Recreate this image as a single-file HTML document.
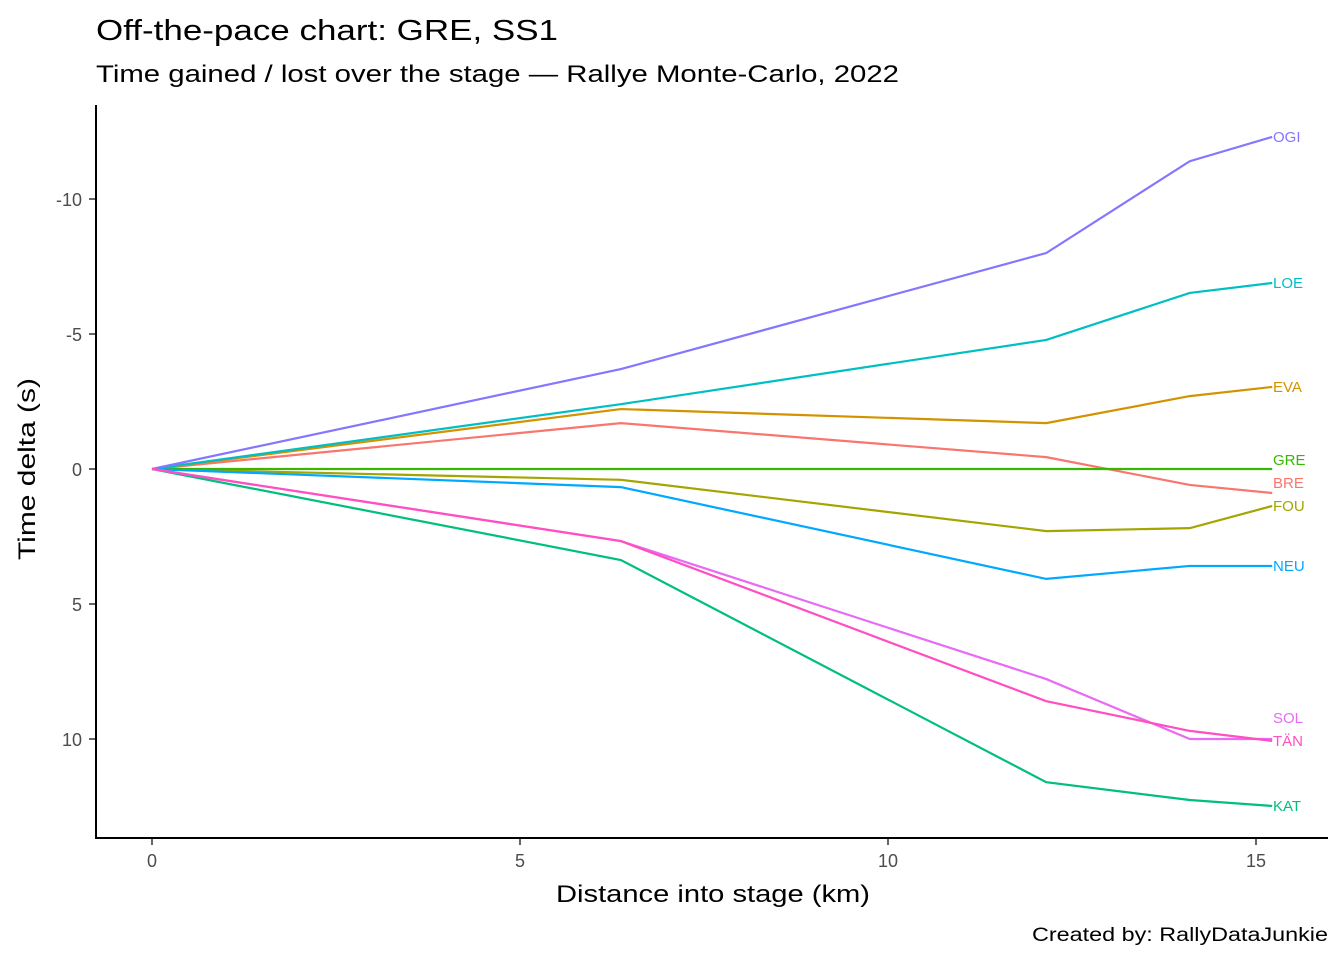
<!DOCTYPE html>
<html><head><meta charset="utf-8"><style>
body{margin:0;background:#fff;}
svg text{font-family:"Liberation Sans",Arial,sans-serif;}
</style></head><body>
<svg id="chart" width="1344" height="960" xmlns="http://www.w3.org/2000/svg">
<rect width="1344" height="960" fill="#fff"/>
<text x="96" y="40" font-size="29" textLength="462" lengthAdjust="spacingAndGlyphs" fill="#000">Off-the-pace chart: GRE, SS1</text>
<text x="96" y="82" font-size="24" textLength="803" lengthAdjust="spacingAndGlyphs" fill="#000">Time gained / lost over the stage — Rallye Monte-Carlo, 2022</text>
<g id="plot"></g>
<line x1="96" y1="105" x2="96" y2="839" stroke="#000" stroke-width="2"/>
<line x1="95" y1="838" x2="1328" y2="838" stroke="#000" stroke-width="2"/>
<text x="713" y="902" font-size="24" textLength="314" lengthAdjust="spacingAndGlyphs" text-anchor="middle">Distance into stage (km)</text>
<text transform="translate(35,469) rotate(-90)" font-size="24" textLength="182" lengthAdjust="spacingAndGlyphs" text-anchor="middle">Time delta (s)</text>
<text x="1328" y="941" font-size="19" textLength="296" lengthAdjust="spacingAndGlyphs" text-anchor="end">Created by: RallyDataJunkie</text>
</svg>
<script>
const distances = [0, 6.37, 12.15, 14.1, 15.22];
const drivers = ["BRE","EVA","FOU","GRE","KAT","LOE","NEU","OGI","SOL","TÄN"];
const colors = ["#F8766D","#D39200","#A3A500","#39B600","#00BF7D","#00BFC4","#00A9FF","#8476FF","#E76BF3","#FF4FC1"];
const BRE = [0, -1.7, -0.44, 0.59, 0.89];
const EVA = [0, -2.22, -1.7, -2.7, -3.04];
const FOU = [0, 0.4, 2.3, 2.19, 1.37];
const GRE = [0, 0, 0, 0, 0];
const KAT = [0, 3.37, 11.6, 12.26, 12.48];
const LOE = [0, -2.4, -4.78, -6.52, -6.89];
const NEU = [0, 0.67, 4.07, 3.59, 3.59];
const OGI = [0, -3.7, -8.0, -11.4, -12.3];
const SOL = [0, 2.67, 7.78, 10.0, 10.0];
const TAN = [0, 2.67, 8.6, 9.7, 10.07];
const seriesValues = [BRE, EVA, FOU, GRE, KAT, LOE, NEU, OGI, SOL, TAN];
const xTicks = [0, 5, 10, 15];
const yTicks = [-10, -5, 0, 5, 10];
const yTickLabels = ["-10", "-5", "0", "5", "10"];

const NS = "http://www.w3.org/2000/svg";
const g = document.getElementById("plot");
const xs = v => 152 + v * 73.6;
const ys = v => 469 + v * 27;
function mk(tag, attrs){const e=document.createElementNS(NS,tag);for(const k in attrs)e.setAttribute(k,attrs[k]);g.appendChild(e);return e;}

xTicks.forEach(t=>{
  const l=mk("line",{x1:xs(t),x2:xs(t),y1:838,y2:845,stroke:"#333","stroke-width":1.5});
  
  
  const tx=mk("text",{x:xs(t),y:867,"font-size":18,fill:"#4d4d4d","text-anchor":"middle"});
  tx.textContent=t;
  
  
});
yTicks.forEach((t,i)=>{
  const l=mk("line",{x1:89,x2:96,y1:ys(t),y2:ys(t),stroke:"#333","stroke-width":1.5});
  
  
  const tx=mk("text",{x:82,y:ys(t)+7,"font-size":18,fill:"#4d4d4d","text-anchor":"end"});
  tx.textContent=yTickLabels[i];
  
  
});

const labels=[];
seriesValues.forEach((vals,i)=>{
  const d=vals.map((v,j)=>(j?"L":"M")+xs(distances[j])+","+ys(v)).join(" ");
  const p=mk("path",{d:d,fill:"none",stroke:colors[i],"stroke-width":2.2});
  
  
  labels.push({i:i,y:ys(vals[vals.length-1])});
});
labels.sort((a,b)=>a.y-b.y);
for(let k=labels.length-2;k>=0;k--){
  if(labels[k].y>labels[k+1].y-23) labels[k].y=labels[k+1].y-23;
}
labels.forEach(lb=>{
  const t=mk("text",{x:1273,y:lb.y+5,"font-size":15,fill:colors[lb.i]});
  t.textContent=drivers[lb.i];
  
  
});
</script>
</body></html>
